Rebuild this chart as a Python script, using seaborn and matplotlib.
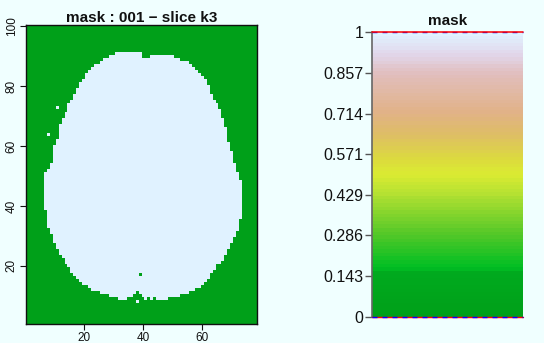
import numpy as np
import pandas as pd
import matplotlib
matplotlib.use("Agg")
import matplotlib.pyplot as plt
import seaborn as sns
from matplotlib.colors import LinearSegmentedColormap, ListedColormap

# --- data -----------------------------------------------------------------
n_x, n_y = 78, 100
brain_rows = list(range(9, 92))
brain_left = [32, 29, 26, 23, 22, 20, 19, 18, 17, 16,
              16, 15, 14, 14, 13, 12, 12, 11, 11, 10,
              10, 10, 9, 9, 8, 8, 8, 8, 8, 8,
              7, 7, 7, 7, 7, 7, 7, 7, 7, 7,
              7, 7, 7, 8, 9, 9, 10, 10, 10, 10,
              10, 10, 11, 11, 12, 12, 12, 12, 12, 13,
              13, 14, 14, 15, 15, 15, 16, 17, 17, 18,
              18, 19, 19, 20, 21, 21, 22, 23, 24, 26,
              27, 29, 31]
brain_right = [48, 52, 55, 57, 59, 60, 61, 62, 62, 63,
               64, 64, 66, 67, 67, 68, 68, 69, 69, 70,
               70, 71, 71, 72, 72, 72, 72, 73, 73, 73,
               73, 73, 73, 73, 73, 73, 73, 73, 73, 73,
               72, 72, 72, 71, 71, 71, 70, 70, 70, 70,
               69, 69, 69, 68, 68, 68, 68, 68, 67, 67,
               67, 66, 66, 66, 65, 65, 64, 63, 63, 62,
               62, 62, 61, 61, 60, 59, 58, 57, 56, 55,
               52, 50, 39]
# (row, col) voxels that break the outline
holes = [(90, 40), (90, 41), (90, 42), (17, 39),
         (9, 35), (9, 36), (9, 37), (9, 38), (9, 39), (9, 40), (9, 42), (9, 44),
         (10, 37), (10, 38), (10, 39), (11, 38)]
islands = [(73, 11), (64, 8), (8, 38)]

x_ticks = [20, 40, 60]
y_ticks = [20, 40, 60, 80, 100]
cbar_ticks = [0, 0.143, 0.286, 0.429, 0.571, 0.714, 0.857, 1]
cbar_labels = ["0", "0.143", "0.286", "0.429", "0.571", "0.714", "0.857", "1"]

# colour ramp stops seen on the colour bar
ramp_pos = [0.0, 0.15, 0.17, 0.29, 0.43, 0.50, 0.55, 0.64, 0.72, 0.86, 0.93, 1.0]
ramp_col = ["#00a019", "#00aa1e", "#00be23", "#55c828", "#b4e132", "#daeb32",
            "#dcdc3c", "#debe64", "#e1b287", "#e1bebe", "#e1d7eb", "#e0f2ff"]

# --- build the mask --------------------------------------------------------
mask = np.zeros((n_y, n_x))
for r, lo, hi in zip(brain_rows, brain_left, brain_right):
    mask[r - 1, lo - 1:hi] = 1
for r, c in holes:
    mask[r - 1, c - 1] = 0
for r, c in islands:
    mask[r - 1, c - 1] = 1
df = pd.DataFrame(mask, index=range(1, n_y + 1), columns=range(1, n_x + 1))

ramp = LinearSegmentedColormap.from_list("ramp", list(zip(ramp_pos, ramp_col)))
cmap = ListedColormap(ramp(np.linspace(0, 1, 80)))

bg = "#f0ffff"
ink = "#111111"
sns.set_theme(style="white")
plt.rcParams["font.family"] = ["Liberation Sans", "DejaVu Sans"]

fig = plt.figure(figsize=(5.44, 3.43), dpi=100, facecolor=bg)
ax = fig.add_axes([26 / 544, 1 - 324 / 343, 231 / 544, 299 / 343])
cax = fig.add_axes([372 / 544, 1 - 317 / 343, 151 / 544, 285 / 343])

sns.heatmap(df, ax=ax, cmap=cmap, vmin=0, vmax=1, cbar_ax=cax,
            xticklabels=False, yticklabels=False)
ax.invert_yaxis()
ax.set_xticks(np.array(x_ticks) - 0.5, labels=[str(t) for t in x_ticks])
ax.set_yticks(np.array(y_ticks) - 0.5, labels=[str(t) for t in y_ticks])
for lab in ax.get_yticklabels():
    lab.set_rotation(90)
    lab.set_va("center")
ax.tick_params(axis="both", length=4, width=0.8, color=ink,
               labelsize=8.5, pad=2, labelcolor=ink)
ax.tick_params(axis="x", bottom=True)
ax.tick_params(axis="y", left=True)
for s in ax.spines.values():
    s.set_visible(True)
    s.set_color(ink)
    s.set_linewidth(1)
ax.set_xlabel("")
ax.set_ylabel("")
ax.set_title("mask : 001 \u2212 slice k3", fontsize=11, fontweight="bold",
             pad=2, color=ink)

cbar = ax.collections[0].colorbar
cbar.outline.set_visible(False)
cbar.set_ticks(cbar_ticks, labels=cbar_labels)
cax.yaxis.set_ticks_position("left")
cax.spines["left"].set_visible(True)
cax.spines["left"].set_color("#666666")
cax.spines["left"].set_linewidth(1.2)
cax.tick_params(axis="y", length=5, width=1, color="#555555",
                labelsize=11.5, pad=1, labelcolor=ink)
cax.axhline(1, color="blue", lw=1, ls=(0, (3.6, 3.6)), clip_on=False, zorder=3)
cax.axhline(1, color="red", lw=1.1, clip_on=False, zorder=4)
cax.axhline(0, color="red", lw=1, clip_on=False, zorder=3)
cax.axhline(0, color="blue", lw=1, ls=(0, (3.6, 3.6)), clip_on=False, zorder=4)
cax.set_title("mask", fontsize=11, fontweight="bold", pad=5, color=ink)

fig.savefig("out.png", dpi=100, facecolor=bg)
